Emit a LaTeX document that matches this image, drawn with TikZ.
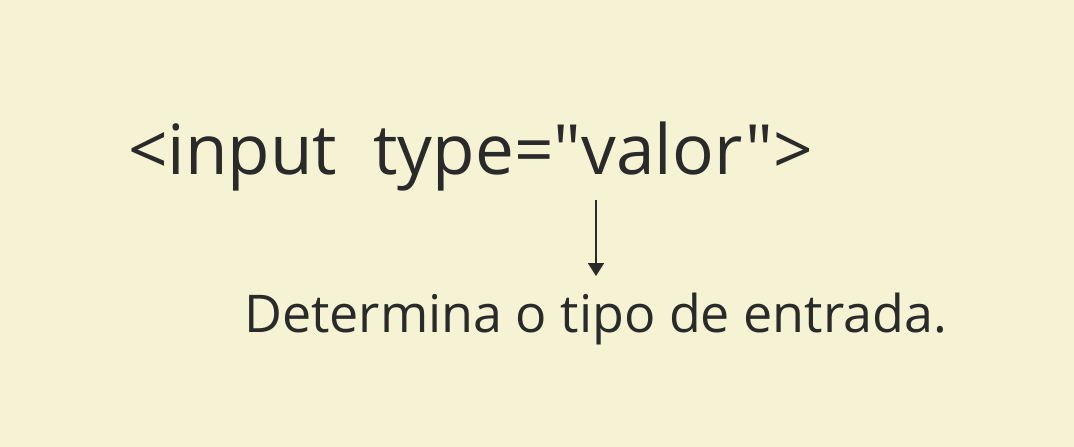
\documentclass[tikz,border=0pt]{standalone}
\usepackage{fontspec}
\setmainfont[Ligatures=TeXOff]{Open Sans}
\usetikzlibrary{arrows.meta}
\definecolor{paper}{HTML}{F6F3D4}
\definecolor{ink}{HTML}{2A2A2A}
\begin{document}
\begin{tikzpicture}[x=1pt,y=-1pt,
  label text/.style={anchor=base west, inner sep=0pt, text=ink},
  pointer/.style={draw=ink, line width=1.8pt, -{Triangle[length=13pt,width=16pt]}}]
  \fill[paper] (0,0) rectangle (1074,447);
  \useasboundingbox (0,0) rectangle (1074,447);
  \node[label text, font=\fontsize{69.3}{76}\selectfont] (tag) at (128,174) {<input\ \ type="valor">};
  \node[label text, font=\fontsize{52}{58}\selectfont] (desc) at (244,332) {Determina o tipo de entrada.};
  \coordinate (from) at (596,200);
  \coordinate (to) at (596,276);
  \draw[pointer] (from) -- (to);
\end{tikzpicture}
\end{document}
